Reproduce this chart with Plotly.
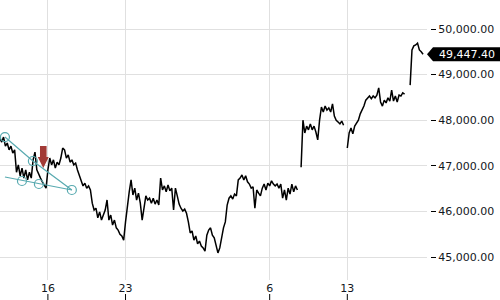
import pandas as pd
import plotly.graph_objects as go

# ---- data: 4-hour closes, None = no trading ----
start_time = "2021-11-11 16:00"
seg_a = [47610, 47520, 47630, 47430, 47500, 47350, 47430, 47280, 47350, 46860,
         47020, 46780, 46950, 46730, 46910, 46690, 46860, 46730, 47130, 47300,
         46910, 46800, 46730, 46650, 46580, 46510, 46910, 47170, 47020, 47130,
         46950, 47080, 47020, 47170, 47390, 47350, 47170, 47240, 47080, 47130,
         47020, 47060, 46910, 46800, 46650, 46560, 46620, 46510, 46560, 46470,
         46180, 46030, 46070, 45860, 45990, 45810, 45920, 46030, 46250, 45810,
         45920, 45700, 45810, 45640, 45590, 45500, 45460, 45370, 45770, 46140,
         46430, 46690, 46360, 46510, 46250, 46400, 46180, 45810, 46120, 46340,
         46250, 46290, 46180, 46290, 46160, 46250, 46140, 46730, 46470, 46560,
         46430, 46580, 46450, 46510, 46030, 46510, 46340, 46160, 46070, 46010,
         46050, 45960, 45770, 45530, 45570, 45370, 45460, 45290, 45350, 45240,
         45200, 45130, 45480, 45590, 45640, 45480, 45420, 45260, 45090, 45200,
         45440, 45640, 45770, 46140, 46290, 46340, 46270, 46380, 46340, 46690,
         46730, 46800, 46690, 46780, 46650, 46600, 46510, 46540, 46070, 46470,
         46400, 46340, 46510, 46600, 46470, 46620, 46560, 46670, 46600, 46560,
         46600, 46510, 46600, 46290, 46470, 46250, 46510, 46380, 46600, 46430,
         46560, 46470]
seg_b = [46970, 48000, 47720, 47870, 47790, 47920, 47790, 47870, 47740, 47570,
         48000, 48290, 48180, 48310, 48220, 48270, 48180, 48360, 48090, 48000,
         47960, 47920, 47980, 47890]
seg_c = [47390, 47720, 47830, 47700, 47870, 47940, 48000, 48140, 48220, 48310,
         48440, 48490, 48530, 48470, 48530, 48490, 48550, 48710, 48400, 48310,
         48440, 48380, 48490, 48420, 48660, 48420, 48530, 48400, 48550, 48530,
         48600, 48570]
seg_d = [48770, 49540, 49630, 49650, 49690, 49540, 49500, 49447.40]

# ---- drawings (trend wedge) ----
wedge_upper_t = ["2021-11-12 03:00", "2021-11-14 15:30", "2021-11-18 03:50"]
wedge_upper_p = [47630, 47105, 46470]
wedge_lower_t = ["2021-11-12 03:00", "2021-11-18 03:50"]
wedge_lower_p = [46755, 46470]
wedge_knots_t = ["2021-11-12 03:00", "2021-11-14 15:30", "2021-11-18 03:50",
                 "2021-11-13 15:50", "2021-11-15 04:30"]
wedge_knots_p = [47630, 47105, 46470, 46667, 46601]
signal_t = "2021-11-15 14:00"
signal_p = 46952

# ---- axes ----
x_range = ["2021-11-11 16:19", "2021-12-20 04:30"]
y_range = [44496, 50636]
x_tickvals = ["2021-11-16", "2021-11-23", "2021-12-06", "2021-12-13"]
x_ticktext = ["16", "23", "6", "13"]
y_tickvals = [45000, 46000, 47000, 48000, 49000, 50000]

prices = seg_a + [None] + seg_b + [None] + seg_c + [None, None] + seg_d
times = pd.date_range(start_time, periods=len(prices), freq="4h")
last_price = seg_d[-1]

FONT = "DejaVu Sans"
TEAL = "#58aab0"
GRID = "#e0e0e0"

fig = go.Figure()
fig.add_trace(go.Scatter(x=times, y=prices, mode="lines",
                         line=dict(color="black", width=1.5),
                         connectgaps=False, hoverinfo="skip"))
fig.add_trace(go.Scatter(x=wedge_upper_t, y=wedge_upper_p, mode="lines",
                         line=dict(color=TEAL, width=1.2), hoverinfo="skip"))
fig.add_trace(go.Scatter(x=wedge_lower_t, y=wedge_lower_p, mode="lines",
                         line=dict(color=TEAL, width=1.2), hoverinfo="skip"))
fig.add_trace(go.Scatter(x=wedge_knots_t, y=wedge_knots_p, mode="markers",
                         marker=dict(symbol="circle-open", size=9,
                                     color=TEAL, line=dict(width=1.2)),
                         hoverinfo="skip"))
fig.add_trace(go.Scatter(x=[times[-1]], y=[last_price], yaxis="y2",
                         mode="markers", marker=dict(opacity=0),
                         hoverinfo="skip"))

# signal arrow (pixel-sized, anchored at its tip)
fig.add_shape(type="path", xref="x", yref="y", xsizemode="pixel",
              ysizemode="pixel", xanchor=signal_t, yanchor=signal_p,
              path="M0,0 L-5.5,11 L-3.3,11 L-3.3,22 L3.3,22 L3.3,11 L5.5,11 Z",
              fillcolor="#a23b36", line=dict(width=0), layer="above")

# last price tag
fig.add_shape(type="path", xref="paper", yref="y", ysizemode="pixel",
              yanchor=last_price,
              path="M0.854,0 L0.866,7 L1,7 L1,-7 L0.866,-7 Z",
              fillcolor="black", line=dict(width=0), layer="above")
fig.add_annotation(x=0.934, y=last_price, xref="paper", yref="y",
                   text=f"{last_price:,.2f}", showarrow=False,
                   font=dict(family=FONT, size=11, color="white"),
                   xanchor="center", yanchor="middle")

# x tick marks drawn below the labels
for tv in x_tickvals:
    fig.add_shape(type="line", xref="x", yref="paper", x0=tv, x1=tv,
                  y0=0.0, y1=0.02, line=dict(color="black", width=1))

fig.update_layout(
    width=500, height=300, autosize=False,
    margin=dict(l=0, r=0, t=0, b=0),
    paper_bgcolor="white", plot_bgcolor="white",
    showlegend=False,
    xaxis=dict(domain=[0, 0.854], range=x_range, type="date",
               tickvals=x_tickvals, ticktext=x_ticktext,
               showgrid=True, gridcolor=GRID, gridwidth=1,
               zeroline=False, showline=False, ticks="",
               tickfont=dict(family=FONT, size=11, color="#131722")),
    yaxis=dict(domain=[20 / 300, 1], range=y_range, side="right",
               tickvals=y_tickvals, showticklabels=False,
               showgrid=True, gridcolor=GRID, gridwidth=1,
               zeroline=False, showline=False, ticks=""),
    yaxis2=dict(overlaying="y", anchor="free", position=0.86, side="right",
                range=y_range, tickvals=y_tickvals,
                ticktext=[f"{v:,.2f}" for v in y_tickvals],
                showgrid=False, zeroline=False, showline=False,
                ticks="outside", ticklen=5, tickcolor="black", tickwidth=1,
                tickfont=dict(family=FONT, size=11, color="#131722")),
)

fig.write_html("out.html")
